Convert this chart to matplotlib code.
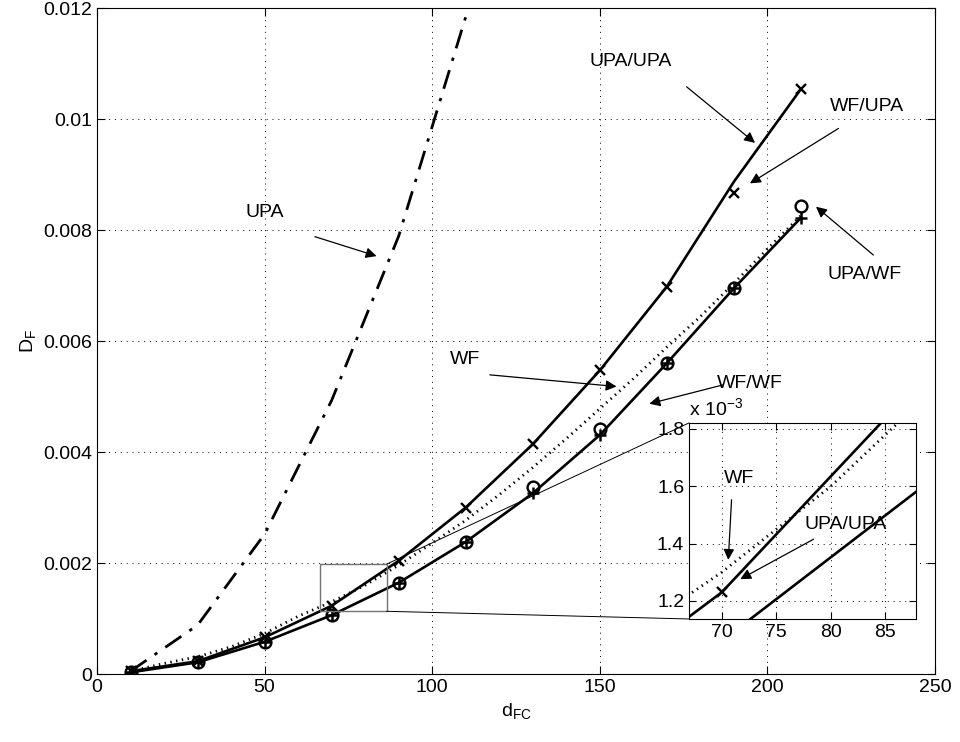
import matplotlib
matplotlib.use('Agg')
import matplotlib.pyplot as plt
from matplotlib.patches import Rectangle, ConnectionPatch
from matplotlib.ticker import FuncFormatter

plt.rcParams['font.family'] = ['Liberation Sans', 'DejaVu Sans']
plt.rcParams['mathtext.default'] = 'regular'

# data
x_pts   = [10, 30, 50, 70, 90, 110, 130, 150, 170, 190, 210]
upa_upa = [5e-5, 2.3e-4, 6.6e-4, 1.23e-3, 2.04e-3, 3.0e-3, 4.14e-3, 5.47e-3, 6.98e-3, 8.87e-3, 1.054e-2]
wf_upa  = [5e-5, 2.3e-4, 6.6e-4, 1.23e-3, 2.04e-3, 3.0e-3, 4.14e-3, 5.47e-3, 6.98e-3, 8.67e-3, 1.054e-2]
wf_wf   = [3e-5, 2.1e-4, 5.8e-4, 1.06e-3, 1.645e-3, 2.38e-3, 3.256e-3, 4.306e-3, 5.6e-3, 6.95e-3, 8.22e-3]
upa_wf  = [3e-5, 2.1e-4, 5.8e-4, 1.06e-3, 1.645e-3, 2.38e-3, 3.375e-3, 4.41e-3, 5.6e-3, 6.95e-3, 8.43e-3]

x_upa = [10, 30, 50, 70, 90, 110, 130]
upa   = [5e-5, 8.8e-4, 2.52e-3, 4.93e-3, 7.89e-3, 1.184e-2, 1.58e-2]

x_wf = [10, 20, 30, 40, 50, 60, 70, 80, 90, 100, 110, 120, 130, 140, 150, 160, 170, 180, 190, 200, 210]
wf   = [5e-5, 1.9e-4, 3.1e-4, 4.9e-4, 7.3e-4, 1.04e-3, 1.3e-3, 1.6e-3, 1.96e-3, 2.36e-3, 2.77e-3,
        3.23e-3, 3.72e-3, 4.24e-3, 4.78e-3, 5.32e-3, 5.89e-3, 6.44e-3, 7.04e-3, 7.66e-3, 8.26e-3]

xticks = [0, 50, 100, 150, 200, 250]
yticks = [0, 0.002, 0.004, 0.006, 0.008, 0.01, 0.012]
ylabels = ['0', '0.002', '0.004', '0.006', '0.008', '0.01', '0.012']

zoom_x = (67.0, 87.8)
zoom_y = (1.137e-3, 1.821e-3)
rect_x = (66.4, 86.4)
rect_y = (1.13e-3, 1.98e-3)

fs = 14
grid_ls = (0, (1, 5))


def draw_series(ax):
    ax.plot(x_upa, upa, color='k', lw=2, linestyle=(0, (7, 3.5, 1.2, 3.5)))
    ax.plot(x_wf, wf, color='k', lw=2.0, linestyle=(0, (0.5, 1.6)))
    ax.plot(x_pts, upa_upa, color='k', lw=1.9)
    ax.plot(x_pts, wf_upa, 'x', color='k', ms=7, mew=1.7)
    ax.plot(x_pts, wf_wf, '-+', color='k', lw=1.9, ms=8, mew=1.8)
    ax.plot(x_pts, upa_wf, 'o', color='k', ms=8.5, mew=1.7, mfc='none')


def note(ax, text, xy, xytext, tail, size=fs):
    ax.text(xytext[0], xytext[1], text, ha='center', va='center', fontsize=size)
    ax.annotate('', xy=xy, xytext=tail,
                arrowprops=dict(arrowstyle='-|>', color='k', lw=0.9,
                                mutation_scale=16, shrinkA=0, shrinkB=0))


fig = plt.figure(figsize=(9.6, 7.42), dpi=100)
ax = fig.add_axes([0.10104, 0.09164, 0.87292, 0.89757])

draw_series(ax)
ax.set_xlim(0, 250)
ax.set_ylim(0, 0.012)
ax.set_xticks(xticks)
ax.set_yticks(yticks)
ax.set_yticklabels(ylabels)
ax.grid(True, color='k', lw=0.7, linestyle=grid_ls)
ax.tick_params(direction='in', top=True, right=True, length=6, labelsize=fs)
ax.set_xlabel('d$_{FC}$', fontsize=fs)
ax.set_ylabel('D$_F$', fontsize=fs)

# annotations in the main axes
note(ax, 'UPA', (83.4, 0.00753), (50.1, 0.00832), (65.0, 0.00788))
note(ax, 'UPA/UPA', (196.3, 0.00957), (159.3, 0.01103), (175.9, 0.01058))
note(ax, 'WF/UPA', (194.8, 0.00884), (229.7, 0.01022), (221.2, 0.00983))
note(ax, 'UPA/WF', (214.5, 0.00842), (229.1, 0.0072), (231.6, 0.00755))
note(ax, 'WF/WF', (164.8, 0.00487), (194.8, 0.00524), (186.8, 0.00521))
note(ax, 'WF', (155.0, 0.00518), (109.8, 0.00566), (117.2, 0.00539))

# zoom rectangle
ax.add_patch(Rectangle((rect_x[0], rect_y[0]), rect_x[1] - rect_x[0], rect_y[1] - rect_y[0],
                       fill=False, edgecolor='0.45', lw=1.0, zorder=5))

# inset
axin = fig.add_axes([0.7177, 0.1658, 0.2365, 0.2642])
draw_series(axin)
axin.set_xlim(*zoom_x)
axin.set_ylim(*zoom_y)
axin.set_xticks([70, 75, 80, 85])
axin.set_yticks([1.2e-3, 1.4e-3, 1.6e-3, 1.8e-3])
axin.yaxis.set_major_formatter(FuncFormatter(lambda v, p: f'{v * 1e3:.1f}'))
axin.grid(True, color='k', lw=0.7, linestyle=grid_ls)
axin.tick_params(direction='in', top=True, right=True, length=5, labelsize=fs)
axin.text(0.0, 1.02, 'x 10$^{-3}$', transform=axin.transAxes, ha='left', va='bottom', fontsize=fs)

note(axin, 'WF', (70.6, 1.343e-3), (71.6, 1.628e-3), (70.9, 1.553e-3))
note(axin, 'UPA/UPA', (71.7, 1.276e-3), (81.4, 1.465e-3), (78.4, 1.415e-3))

# lines joining rectangle and inset
for ya, yb in [(rect_y[1], 1), (rect_y[0], 0)]:
    con = ConnectionPatch(xyA=(rect_x[1], ya), coordsA=ax.transData,
                          xyB=(0, yb), coordsB=axin.transAxes,
                          color='k', lw=0.7)
    fig.add_artist(con)

fig.savefig('out.png', dpi=100)
